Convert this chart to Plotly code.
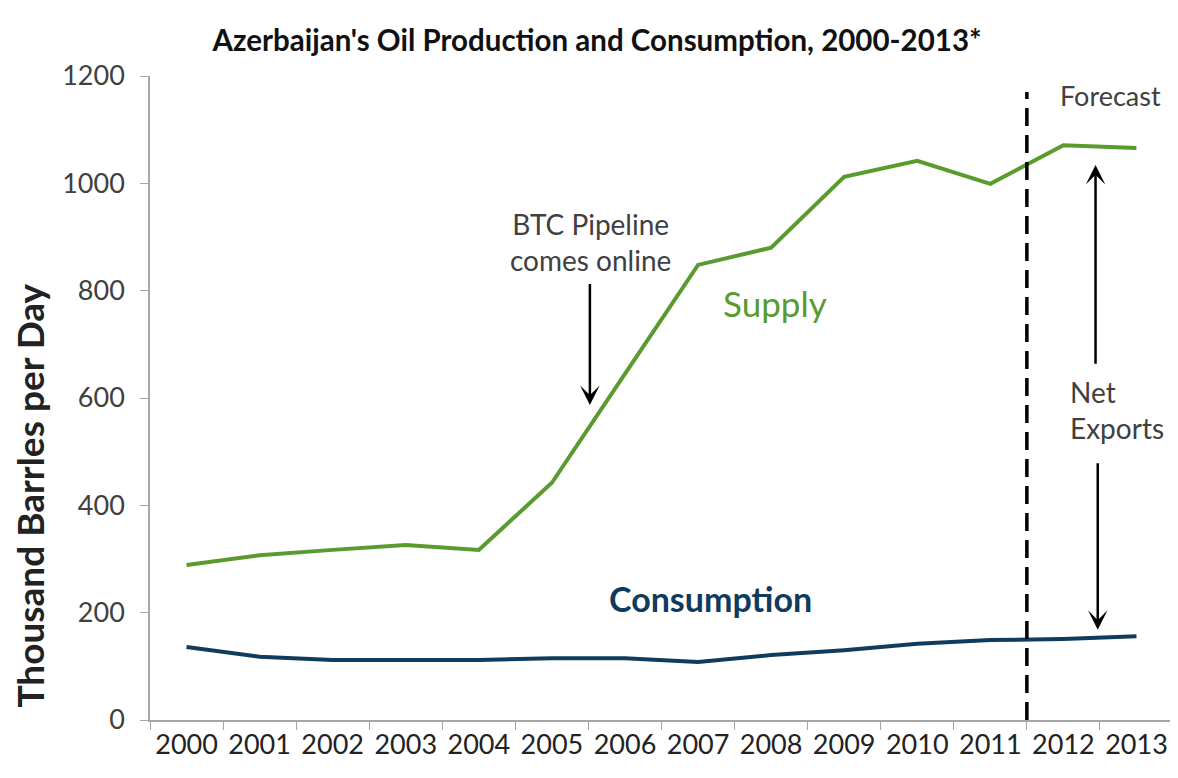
import plotly.graph_objects as go

years = [str(y) for y in range(2000, 2014)]
supply = [289, 307, 317, 326, 317, 442, 645, 848, 880, 1012, 1042, 999, 1071, 1066]
consumption = [136, 118, 112, 112, 112, 115, 115, 108, 121, 130, 142, 149, 151, 156]

GREEN = "#5A9B2E"
NAVY = "#0F3B5C"
GRAY_TXT = "#404040"
FONT = "Lato"

fig = go.Figure()
fig.add_trace(go.Scatter(x=years, y=supply, mode="lines", name="Supply",
                         line=dict(color=GREEN, width=4)))
fig.add_trace(go.Scatter(x=years, y=consumption, mode="lines", name="Consumption",
                         line=dict(color=NAVY, width=4)))

fig.update_layout(
    width=1178, height=778,
    margin=dict(l=142, r=13, t=68, b=66),
    paper_bgcolor="white", plot_bgcolor="white",
    showlegend=False,
    font=dict(family=FONT, color=GRAY_TXT),
    title=dict(text="<b>Azerbaijan's Oil Production and Consumption, 2000-2013*</b>",
               x=0.5, xanchor="center", y=0.958, yanchor="middle",
               font=dict(size=29.5, color="#111111", family=FONT)),
)
fig.update_xaxes(type="category", range=[-0.5, 13.5], tickson="boundaries",
                 ticks="outside", ticklen=8, tickcolor="#A6A6A6",
                 showline=True, linecolor="#A6A6A6", linewidth=1.5,
                 showgrid=False, tickangle=0, automargin=False,
                 tickfont=dict(size=27, color="#222222"))
fig.update_yaxes(range=[0, 1200], dtick=200, ticks="outside", ticklen=8,
                 tickcolor="#A6A6A6", showline=True, linecolor="#A6A6A6",
                 linewidth=1.5, showgrid=False, zeroline=False, automargin=False,
                 ticklabelstandoff=10,
                 tickfont=dict(size=27, color=GRAY_TXT))

# y-axis title (placed off-centre as in the original)
fig.add_annotation(xref="paper", yref="paper", x=-0.118, y=0.349,
                   text="<b>Thousand Barrles per Day</b>", textangle=-90,
                   showarrow=False, xanchor="center", yanchor="middle",
                   font=dict(size=37, color="#222222"))

# Forecast divider
fig.add_shape(type="line", xref="x", yref="y", x0=11.5, x1=11.5, y0=0, y1=1170,
              line=dict(color="black", width=3.5, dash="18px,9px"))

anns = [
    dict(x=5.53, y=891, text="BTC Pipeline<br>comes online", showarrow=False,
         font=dict(size=28, color=GRAY_TXT)),
    dict(x=8.06, y=777, text="Supply", showarrow=False,
         font=dict(size=35, color=GREEN)),
    dict(x=7.17, y=227, text="<b>Consumption</b>", showarrow=False,
         font=dict(size=34, color=NAVY)),
    dict(x=12.64, y=1163, text="Forecast", showarrow=False,
         font=dict(size=27, color=GRAY_TXT)),
    dict(x=12.06, y=578, text="Net<br>Exports", showarrow=False, xanchor="left",
         align="left", font=dict(size=28, color=GRAY_TXT)),
]
for a in anns:
    fig.add_annotation(xref="x", yref="y", **a)

arrows = [
    (5.52, 815, 5.52, 587),
    (12.44, 661, 12.44, 1034),
    (12.47, 481, 12.47, 168),
]
for x0, y0, x1, y1 in arrows:
    fig.add_annotation(xref="x", yref="y", axref="x", ayref="y",
                       x=x1, y=y1, ax=x0, ay=y0, text="", showarrow=True,
                       arrowhead=3, arrowsize=1.3, arrowwidth=2.5, arrowcolor="black")

fig.write_html("out.html")
